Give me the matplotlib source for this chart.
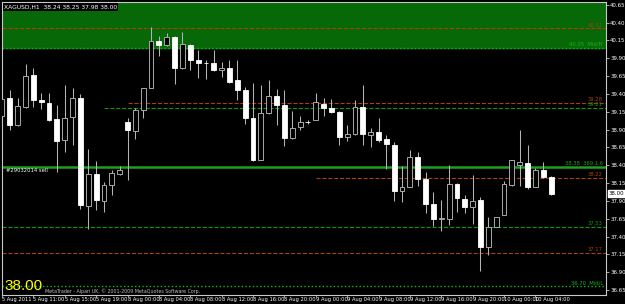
import numpy as np
import matplotlib
matplotlib.use("Agg")
from matplotlib import pyplot as plt
from matplotlib import transforms

# XAGUSD H1 bars, 5 Aug 2011 07:00 .. 10 Aug 2011 06:00
opens = [39.09, 39.34, 38.97, 39.22, 39.66, 39.31, 39.28, 39.05, 38.75, 39.08,
         39.35, 37.83, 38.28, 37.90, 38.12, 38.28, 39.00, 38.88, 39.18, 39.48,
         40.14, 40.08, 40.20, 39.76, 40.09, 39.88, 39.84, 39.83, 39.73, 39.76,
         39.59, 39.46, 39.06, 38.48, 39.13, 39.37, 39.25, 38.78, 38.94, 39.00,
         39.04, 39.26, 39.20, 39.15, 38.80, 38.84, 39.22, 38.83, 38.86, 38.77,
         38.69, 38.04, 38.10, 38.52, 38.21, 37.86, 37.65, 37.65, 38.14, 37.93,
         37.81, 37.91, 37.25, 37.54, 37.70, 38.13, 38.41, 38.43, 38.10, 38.33, 38.24]
highs = [39.37, 39.45, 39.34, 39.82, 39.76, 39.41, 39.41, 39.24, 39.53, 39.48,
         39.40, 38.63, 38.46, 38.17, 38.34, 38.39, 39.06, 39.20, 39.48, 40.34,
         40.22, 40.25, 40.21, 40.27, 40.10, 40.01, 39.88, 40.01, 39.85, 39.87,
         39.88, 39.50, 39.55, 39.53, 39.59, 39.47, 39.46, 39.16, 39.09, 39.03,
         39.41, 39.34, 39.33, 39.16, 38.96, 39.31, 39.52, 38.92, 39.06, 38.82,
         38.73, 38.39, 38.61, 38.58, 38.30, 38.02, 37.91, 38.41, 38.15, 37.98,
         38.26, 37.95, 37.68, 37.68, 38.18, 38.48, 38.89, 38.69, 38.36, 38.44, 38.25]
lows = [39.06, 38.89, 38.95, 39.21, 39.22, 39.19, 39.02, 38.30, 38.58, 38.69,
        37.78, 37.51, 37.77, 37.74, 37.98, 38.26, 38.19, 38.77, 39.06, 39.48,
        39.93, 40.07, 39.54, 39.75, 39.73, 39.62, 39.61, 39.72, 39.64, 39.55,
        39.31, 38.98, 38.46, 38.47, 39.12, 38.96, 38.67, 38.77, 38.89, 38.98,
        39.03, 39.09, 39.13, 38.68, 38.74, 38.83, 38.69, 38.65, 38.72, 38.35,
        37.90, 37.89, 38.09, 38.11, 37.73, 37.55, 37.48, 37.56, 37.75, 37.73,
        37.57, 36.92, 37.14, 37.53, 37.70, 38.11, 38.11, 38.07, 38.09, 38.22, 37.98]
closes = [39.33, 38.96, 39.23, 39.65, 39.31, 39.29, 39.04, 38.74, 39.06, 39.34,
          37.84, 38.28, 37.91, 38.13, 38.29, 38.33, 38.89, 39.17, 39.48, 40.14,
          40.09, 40.20, 39.76, 40.10, 39.87, 39.83, 39.83, 39.73, 39.77, 39.57,
          39.46, 39.06, 38.47, 39.13, 39.37, 39.25, 38.78, 38.92, 39.00, 39.00,
          39.29, 39.21, 39.15, 38.80, 38.84, 39.22, 38.84, 38.87, 38.76, 38.70,
          38.04, 38.10, 38.52, 38.21, 37.86, 37.65, 37.66, 38.14, 37.94, 37.81,
          37.90, 37.25, 37.53, 37.67, 38.14, 38.48, 38.44, 38.09, 38.33, 38.24, 38.00]

time_labels = ["5 Aug 2011", "5 Aug 11:00", "5 Aug 15:00", "5 Aug 19:00",
               "8 Aug 00:00", "8 Aug 04:00", "8 Aug 08:00", "8 Aug 12:00",
               "8 Aug 16:00", "8 Aug 20:00", "9 Aug 00:00", "9 Aug 04:00",
               "9 Aug 08:00", "9 Aug 12:00", "9 Aug 16:00", "9 Aug 20:00",
               "10 Aug 00:00", "10 Aug 04:00"]

# horizontal levels drawn on the chart
levels = [40.32, 40.05, 39.28, 39.21, 38.38, 38.22, 37.53, 37.17, 36.70]
level_text = ["40.32", "40.05  Mid/H", "39.28", "39.21", "38.38  369.1.6",
              "38.22", "37.53", "37.17", "36.70  Mid/L"]
level_start = [0, 0, 16, 13, 0, 40, 0, 0, 0]

price_now = 38.00
resist_zone = 40.05

OR = '#a8400f'
GR = '#0a9a0a'
level_color = [OR, '#17b617', OR, GR, '#1f9f1f', OR, GR, OR, '#17b617']
level_style = ['--', ':', '--', '--', '-', '--', '--', '--', ':']
level_lw = [0.8, 1.0, 0.8, 0.8, 1.8, 0.8, 0.8, 0.8, 1.0]

opens = np.array(opens)
closes = np.array(closes)
x = np.arange(len(opens))

fig = plt.figure(figsize=(6.25, 3.04), dpi=100, facecolor='black')
ax = fig.add_axes([2/625, 9/304, 604/625, 293/304])
ax.set_facecolor('black')
ax.set_xlim(0, 77)
ax.set_ylim(36.58, 40.69)

# green zone at the top
ax.axhspan(resist_zone, 41, color='#066806', zorder=0)

for lv, c, ls, lw, st, t in zip(levels, level_color, level_style, level_lw, level_start, level_text):
    ax.hlines(lv, st, 77, colors=c, linestyles=ls, lw=lw, zorder=1)
    ax.text(76.6, lv + 0.012, t, color=c, fontsize=3.8, ha='right', va='bottom', zorder=5)

# candles
ax.vlines(x, lows, highs, color='#b4b4b4', lw=0.75, zorder=2)
bear = closes <= opens
bull = ~bear
ax.bar(x[bear], (opens - closes)[bear], bottom=closes[bear], width=0.62,
       color='white', edgecolor='white', lw=0.6, zorder=3)
ax.bar(x[bull], (closes - opens)[bull], bottom=opens[bull], width=0.62,
       color='black', edgecolor='#a8a8a8', lw=0.7, zorder=3)

# axes look
for s in ax.spines.values():
    s.set_color('#c8c8c8')
    s.set_linewidth(0.8)

ax.yaxis.tick_right()
yt = np.arange(36.65, 40.66, 0.25)
ax.set_yticks(yt)
ax.set_yticklabels(['%.2f' % v for v in yt])
ax.tick_params(axis='y', colors='#c8c8c8', labelcolor='white', labelsize=3.9, length=2, width=0.6, pad=1)

ax.set_xticks(x[::4][:len(time_labels)])
ax.set_xticklabels(time_labels, ha='left')
ax.tick_params(axis='x', colors='#c8c8c8', labelcolor='white', labelsize=3.7, length=1.5, width=0.6, pad=0.3)

# current price box
tr = transforms.blended_transform_factory(ax.transAxes, ax.transData)
ax.text(1.004, price_now, '%.2f' % price_now, transform=tr, fontsize=3.9, color='black',
        va='center', ha='left', clip_on=False, zorder=6,
        bbox=dict(boxstyle='square,pad=0.15', fc='white', ec='white'))

# order line label
ax.text(0.5, 38.36, '#29032014 sell', color='white', fontsize=3.8, va='top', ha='left', zorder=5)

# header and corner texts
fig.text(4/625, 1 - 7/304, 'XAGUSD,H1  38.24 38.25 37.98 38.00', color='white', fontsize=4.3,
         va='center', ha='left', bbox=dict(boxstyle='square,pad=0.2', fc='black', ec='none'))
fig.text(4/625, (304 - 290)/304, '38.00', color='yellow', fontsize=11,
         family='Liberation Sans', va='baseline', ha='left')
fig.text(45/625, (304 - 293)/304, 'MetaTrader - Alpari UK, \u00a9 2001-2009 MetaQuotes Software Corp.',
         color='#c0c0c0', fontsize=3.4, va='baseline', ha='left')

fig.savefig('out.png', dpi=100, facecolor='black')
